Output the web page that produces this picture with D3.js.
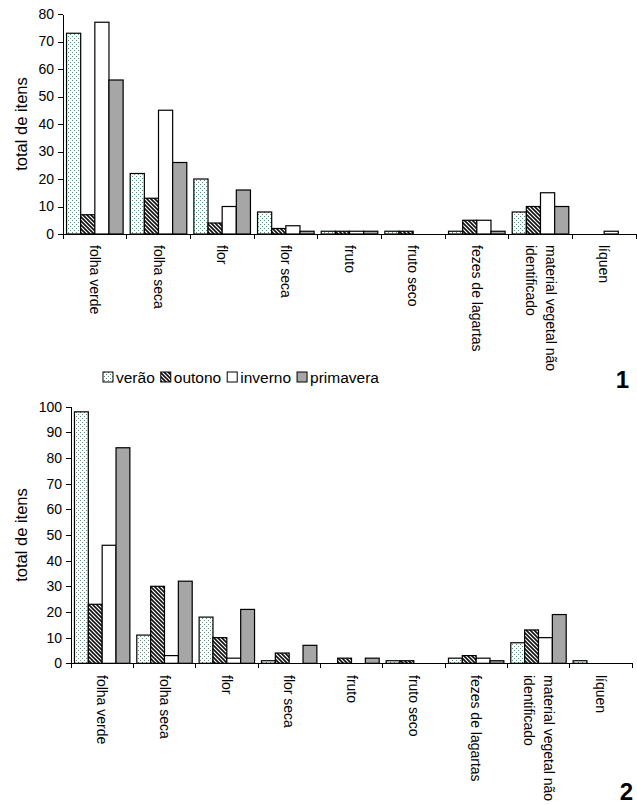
<!DOCTYPE html>
<html>
<head>
<meta charset="utf-8">
<title>total de itens</title>
<script src="https://d3js.org/d3.v7.min.js"></script>
<style>
body { margin: 0; background: #fff; font-family: 'Liberation Sans', Arial, sans-serif; }
svg { display: block; }
</style>
</head>
<body>
<svg id="fig" width="637" height="805"></svg>
<script>
// categorias e estações
var categories = ["folha verde", "folha seca", "flor", "flor seca", "fruto", "fruto seco",
  "fezes de lagartas", "material vegetal não identificado", "líquen"];
var seasons = ["verão", "outono", "inverno", "primavera"];

// figura 1
var verao1     = [73, 22, 20, 8, 1, 1, 1, 8, 0];
var outono1    = [7, 13, 4, 2, 1, 1, 5, 10, 0];
var inverno1   = [77, 45, 10, 3, 1, 0, 5, 15, 1];
var primavera1 = [56, 26, 16, 1, 1, 0, 1, 10, 0];
var ticks1 = [0, 10, 20, 30, 40, 50, 60, 70, 80];

// figura 2
var verao2     = [98, 11, 18, 1, 0, 1, 2, 8, 1];
var outono2    = [23, 30, 10, 4, 2, 1, 3, 13, 0];
var inverno2   = [46, 3, 2, 0, 0, 0, 2, 10, 0];
var primavera2 = [84, 32, 21, 7, 2, 0, 1, 19, 0];
var ticks2 = [0, 10, 20, 30, 40, 50, 60, 70, 80, 90, 100];

var svg = d3.select("#fig");
var defs = svg.append("defs");

// pontilhado (verão)
var pDot = defs.append("pattern").attr("id", "dots")
  .attr("patternUnits", "userSpaceOnUse").attr("width", 4).attr("height", 4);
pDot.append("rect").attr("width", 4).attr("height", 4).attr("fill", "#fff");
pDot.append("rect").attr("x", 0).attr("y", 0).attr("width", 1).attr("height", 1).attr("fill", "#5f8f80");
pDot.append("rect").attr("x", 2).attr("y", 2).attr("width", 1).attr("height", 1).attr("fill", "#5f8f80");

// hachurado (outono)
var pHatch = defs.append("pattern").attr("id", "hatch")
  .attr("patternUnits", "userSpaceOnUse").attr("width", 4).attr("height", 4);
pHatch.append("rect").attr("width", 4).attr("height", 4).attr("fill", "#fff");
pHatch.append("path").attr("d", "M-1,-1L5,5M-1,3L1,5M3,-1L5,1")
  .attr("stroke", "#111").attr("stroke-width", 1.6);

var fills = ["url(#dots)", "url(#hatch)", "#ffffff", "#a6a6a6"];

function wrapLabel(s) {
  // quebra rótulos longos em duas linhas
  if (s.length <= 20) return [s];
  var words = s.split(" "), l1 = "", i = 0;
  while (i < words.length && (l1 + (l1 ? " " : "") + words[i]).length <= 20) {
    l1 += (l1 ? " " : "") + words[i];
    i++;
  }
  return [l1, words.slice(i).join(" ")];
}

function drawPanel(box, series, ticks, labelTop) {
  var g = svg.append("g");

  var x0 = d3.scaleBand().domain(categories).range([box.left, box.right]);
  var x1 = d3.scaleBand().domain(seasons).range([0, x0.bandwidth()]).paddingOuter(0.25);
  var y = d3.scaleLinear().domain([0, ticks[ticks.length - 1]]).range([box.bottom, box.top]);

  // barras
  seasons.forEach(function (s, si) {
    var rows = series[si]
      .map(function (v, i) { return { cat: categories[i], v: v }; })
      .filter(function (d) { return d.v > 0; });
    g.append("g").selectAll("rect")
      .data(rows)
      .join("rect")
      .attr("x", function (d) { return x0(d.cat) + x1(s); })
      .attr("y", function (d) { return y(d.v); })
      .attr("width", x1.bandwidth())
      .attr("height", function (d) { return y(0) - y(d.v); })
      .attr("fill", fills[si])
      .attr("stroke", "#000")
      .attr("stroke-width", 1.2);
  });

  // eixo y
  var yAxis = d3.axisLeft(y).tickValues(ticks).tickSizeInner(5).tickSizeOuter(0).tickPadding(4);
  var ya = g.append("g").attr("transform", "translate(" + box.left + ",0)").call(yAxis);
  ya.selectAll("text").attr("font-size", 14).attr("font-family", "'Liberation Sans', Arial, sans-serif").attr("fill", "#000");
  ya.selectAll("line, path").attr("stroke", "#000").attr("shape-rendering", "crispEdges");

  // eixo x (linha e marcas nos limites das categorias)
  g.append("line")
    .attr("x1", box.left).attr("x2", box.right)
    .attr("y1", y(0)).attr("y2", y(0))
    .attr("stroke", "#000").attr("shape-rendering", "crispEdges");
  var bounds = categories.map(function (c) { return x0(c); }).concat([box.right]);
  g.append("g").selectAll("line")
    .data(bounds)
    .join("line")
    .attr("x1", function (d) { return d; }).attr("x2", function (d) { return d; })
    .attr("y1", y(0)).attr("y2", y(0) + 5)
    .attr("stroke", "#000").attr("shape-rendering", "crispEdges");

  // rótulos das categorias (verticais)
  categories.forEach(function (c) {
    var lines = wrapLabel(c);
    var cx = x0(c) + x0.bandwidth() / 2;
    var t = g.append("text")
      .attr("transform", "translate(" + cx + "," + labelTop + ") rotate(90)")
      .attr("font-size", 14)
      .attr("text-anchor", "start");
    lines.forEach(function (l, li) {
      var off = (li - (lines.length - 1) / 2) * 20 + 5;
      t.append("tspan").attr("x", 0).attr("y", off).text(l);
    });
  });

  // título do eixo y
  g.append("text")
    .attr("transform", "translate(" + 27 + "," + ((box.top + box.bottom) / 2) + ") rotate(-90)")
    .attr("text-anchor", "middle")
    .attr("font-size", 16.5)
    .text("total de itens");
}

drawPanel({ left: 63, right: 636, top: 14, bottom: 234 },
  [verao1, outono1, inverno1, primavera1], ticks1, 245);
drawPanel({ left: 71, right: 632, top: 406.7, bottom: 663.3 },
  [verao2, outono2, inverno2, primavera2], ticks2, 675);

// legenda
var leg = svg.append("g");
var lx = 103, ly = 377;
seasons.forEach(function (s, i) {
  leg.append("rect")
    .attr("x", lx).attr("y", ly - 5).attr("width", 10).attr("height", 10)
    .attr("fill", fills[i]).attr("stroke", "#000").attr("stroke-width", 1);
  var t = leg.append("text")
    .attr("x", lx + 13).attr("y", ly + 6)
    .attr("font-size", 15.5)
    .text(s);
  lx += 13 + t.node().getComputedTextLength() + 6;
});

// números dos painéis
svg.append("text").attr("x", 629).attr("y", 388).attr("text-anchor", "end")
  .attr("font-size", 24).attr("font-weight", "bold").text("1");
svg.append("text").attr("x", 633).attr("y", 800).attr("text-anchor", "end")
  .attr("font-size", 24).attr("font-weight", "bold").text("2");
</script>
</body>
</html>
